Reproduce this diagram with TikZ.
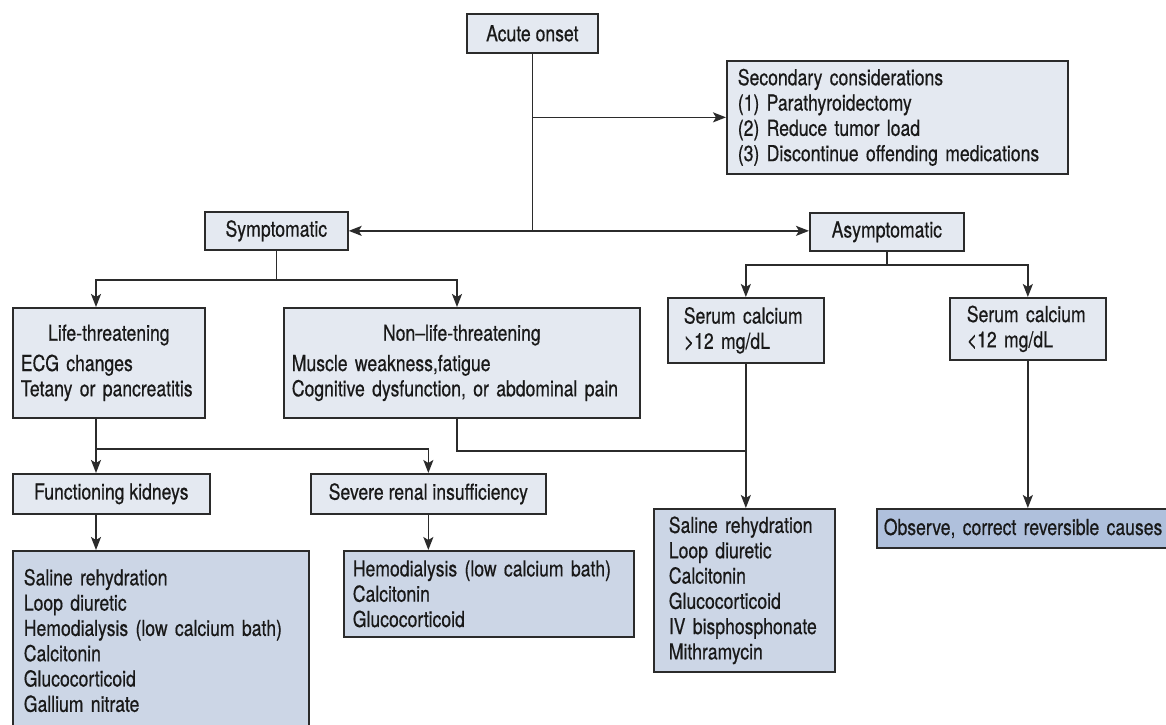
\documentclass[tikz,border=0pt]{standalone}
\usepackage{fontspec}
\setmainfont{TeX Gyre Heros}[FakeStretch=0.80,FakeBold=0.5]
\usetikzlibrary{arrows.meta,calc}
\definecolor{boxlight}{HTML}{E4E9F1}
\definecolor{boxmid}{HTML}{CCD6E6}
\definecolor{boxdark}{HTML}{AFC0DC}
\definecolor{ink}{HTML}{2B2B2B}

\begin{document}
\begin{tikzpicture}[x=1pt,y=-1pt,
  font=\fontsize{22}{25.3}\selectfont,
  box/.style={draw=ink, line width=1.7pt, fill=boxlight, inner sep=0pt,
    anchor=north west, text=black!90},
  lbox/.style={box, align=left, inner xsep=#1, inner ysep=0pt},
  link/.style={draw=ink, line width=1.7pt},
  arr/.style={link, -{Stealth[length=13pt,width=10pt,inset=3pt]}},
  arrboth/.style={link, {Stealth[length=13pt,width=10pt,inset=3pt]}-{Stealth[length=13pt,width=10pt,inset=3pt]}},
]
\useasboundingbox (0,0) rectangle (1166,724);
\fill[white] (0,0) rectangle (1166,724);

% top level
\node[box, minimum width=131pt, minimum height=39pt] (acute) at (466,13) {Acute onset};
\node[lbox=11pt, text width=319pt, minimum height=113pt] (second) at (726,60)
  {Secondary considerations\\(1) Parathyroidectomy\\(2) Reduce tumor load\\(3) Discontinue offending medications};
\node[box, minimum width=143pt, minimum height=38pt] (symp) at (204,211) {Symptomatic};
\node[box, minimum width=154pt, minimum height=38pt] (asym) at (809,212) {Asymptomatic};

% symptomatic branch
\node[lbox=8pt, text width=176pt, minimum height=110pt] (life) at (12,307)
  {\makebox[\linewidth]{Life-threatening}\\[5pt]ECG changes\\Tetany or pancreatitis};
\node[lbox=8pt, text width=340pt, minimum height=110pt] (nonlife) at (283,307)
  {\makebox[\linewidth]{Non--life-threatening}\\[5pt]Muscle weakness,fatigue\\Cognitive dysfunction, or abdominal pain};
\node[box, minimum width=197pt, minimum height=40pt] (fk) at (12,473) {Functioning kidneys};
\node[box, minimum width=235pt, minimum height=40pt] (srf) at (310,473) {Severe renal insufficiency};
\node[lbox=11pt, text width=274pt, inner ysep=18pt, fill=boxmid] (fktx) at (12,550)
  {Saline rehydration\\Loop diuretic\\Hemodialysis (low calcium bath)\\Calcitonin\\Glucocorticoid\\Gallium nitrate\rule[-40pt]{0pt}{1pt}};
\node[lbox=9pt, text width=272pt, minimum height=86pt, fill=boxmid] (srftx) at (343,550)
  {Hemodialysis (low calcium bath)\\Calcitonin\\Glucocorticoid};

% asymptomatic branch
\node[lbox=16pt, text width=124pt, minimum height=65pt] (schi) at (667,297)
  {Serum calcium\\>12 mg/dL};
\node[lbox=17pt, text width=122pt, minimum height=62pt] (sclo) at (949,297)
  {Serum calcium\\<12 mg/dL};
\node[lbox=15pt, text width=151pt, minimum height=163pt, fill=boxmid] (mid) at (653,508)
  {Saline rehydration\\Loop diuretic\\Calcitonin\\Glucocorticoid\\IV bisphosphonate\\Mithramycin};
\node[lbox=7pt, text width=310pt, minimum height=39pt, fill=boxdark] (obs) at (876,508)
  {Observe, correct reversible causes};

% connectors
\draw[link] (acute.south) -- (acute.south |- symp.east);
\draw[arr] (acute.south |- second.west) -- (second.west);
\draw[arrboth] (symp.east) -- (symp.east -| asym.west);

\draw[link] (symp.south) -- ++(0,29) coordinate (symsplit);
\draw[arr] (symsplit) -| ($(life.north west)+(84,0)$);
\draw[arr] (symsplit) -| ($(nonlife.north west)+(174,0)$);

\draw[link] ($(life.south west)+(84,0)$) -- ++(0,30) coordinate (lifesplit);
\draw[arr] (lifesplit) -- (lifesplit |- fk.north);
\draw[arr] (lifesplit) -| (srf.north);
\draw[arr] ($(fk.south west)+(84,0)$) -- ($(fktx.north west)+(84,0)$);
\draw[arr] (srf.south) -- (srf.south |- srftx.north);

\draw[link] (asym.south) -- ++(0,13) coordinate (asymsplit);
\draw[arr] (asymsplit) -| (schi.north);
\draw[arr] (asymsplit) -| (sclo.north);
\draw[arr] (schi.south) -- (schi.south |- mid.north);
\draw[link] ($(nonlife.south west)+(174,0)$) -- ++(0,32) coordinate (nlbend) -- (nlbend -| schi.south);
\draw[arr] (sclo.south) -- (sclo.south |- obs.north);
\end{tikzpicture}
\end{document}
